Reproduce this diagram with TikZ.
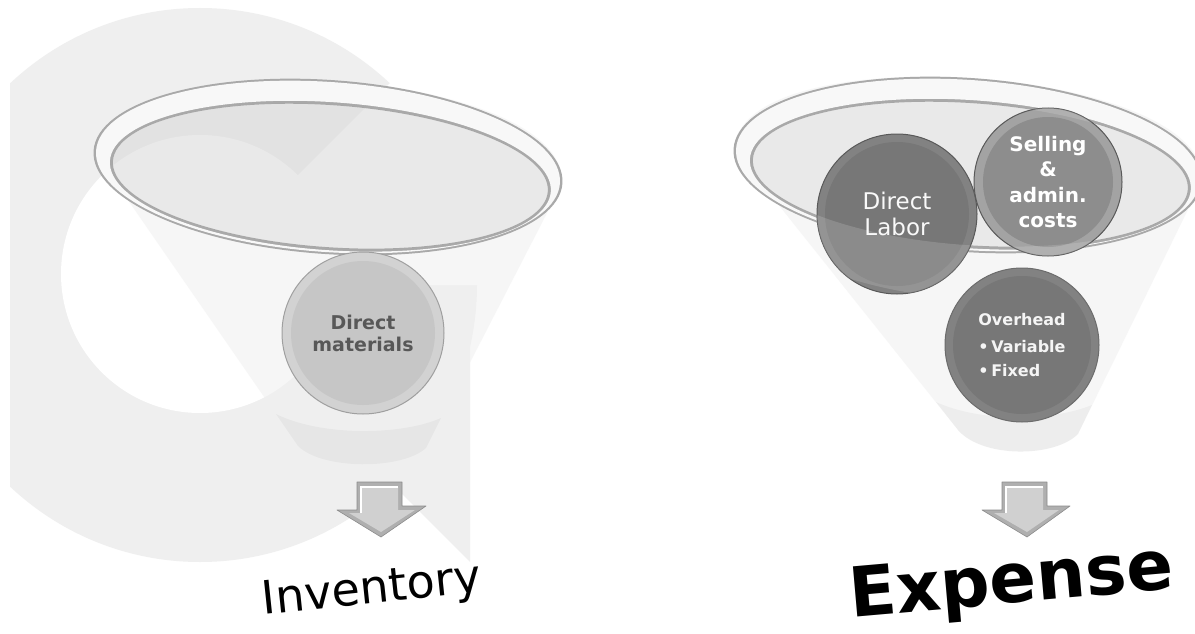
\documentclass[tikz,border=0pt]{standalone}
\usepackage{fontspec}
\setmainfont{DejaVu Sans}
\usetikzlibrary{positioning}

\definecolor{markgray}{HTML}{EFEFEF}
\definecolor{rimedge}{HTML}{A9A9A9}
\definecolor{rimbody}{HTML}{F8F8F8}
\definecolor{dmring}{HTML}{D2D2D2}
\definecolor{dmcore}{HTML}{C6C6C6}
\definecolor{dmtext}{HTML}{585858}
\definecolor{darkring}{HTML}{828282}
\definecolor{darkcore}{HTML}{777777}
\definecolor{midring}{HTML}{A3A3A3}
\definecolor{midcore}{HTML}{8D8D8D}
\definecolor{arrowface}{HTML}{D0D0D0}
\definecolor{arrowedge}{HTML}{8C8C8C}

\begin{document}
\begin{tikzpicture}[x=1pt, y=-1pt,
    ball/.style={circle, inner sep=0pt, align=center, line width=1pt},
    core/.style 2 args={path picture={\fill[#1] (path picture bounding box.center) circle (#2);}},
    cone/.style={fill=gray!12, fill opacity=0.55},
    spout/.style={fill=black, fill opacity=0.035},
    basin/.style={fill=black, fill opacity=0.05},
    downarrow/.style={fill=arrowedge!70, draw=arrowedge, line width=0.6pt, line join=round}]

\useasboundingbox (0,0) rectangle (1195,634);
\fill[white] (0,0) rectangle (1195,634);

% faint mark behind the left funnel
\begin{scope}
  \clip (10,0) rectangle (1195,634);
  \fill[markgray] (200,285) circle[radius=277];
  \fill[markgray] (193,285) -- (470,285) -- (470,562) -- cycle;
  \fill[white] (200,274) circle[radius=139];
  \fill[white] (188,285) -- (473,0) -- (700,0) -- (700,285) -- cycle;
\end{scope}

% funnel bodies
\fill[cone] (94,151) -- (298,446) .. controls (322,470) and (402,470) .. (426,448)
  -- (562,184) .. controls (570,68) and (102,35) .. (94,151);
\fill[spout] (276,414) -- (298,446) .. controls (322,470) and (402,470) .. (426,448)
  -- (441,418) .. controls (400,436) and (320,436) .. (276,414);
\fill[cone] (734,149) -- (958,430) .. controls (982,458) and (1054,458) .. (1078,434)
  -- (1202,181) .. controls (1210,66) and (742,33) .. (734,149);
\fill[spout] (936,402) -- (958,430) .. controls (982,458) and (1054,458) .. (1078,434)
  -- (1092,405) .. controls (1050,422) and (980,422) .. (936,402);

% rims
\begin{scope}[rotate around={-4:(328,167)}]
  \fill[rimedge, even odd rule] (328,167) ellipse[x radius=235, y radius=87] (331,176) ellipse[x radius=218, y radius=71];
  \fill[rimbody, even odd rule] (328,167) ellipse[x radius=232.5, y radius=85] (331,176) ellipse[x radius=221, y radius=74];
  \fill[basin] (331,176) ellipse[x radius=218, y radius=71];
\end{scope}
\begin{scope}[rotate around={-4:(968,165)}]
  \fill[rimedge, even odd rule] (968,165) ellipse[x radius=235, y radius=87] (971,174) ellipse[x radius=218, y radius=71];
  \fill[rimbody, even odd rule] (968,165) ellipse[x radius=232.5, y radius=85] (971,174) ellipse[x radius=221, y radius=74];
  \fill[basin] (971,174) ellipse[x radius=218, y radius=71];
\end{scope}

% cost circles
\node[ball, fill=dmring, draw=gray!75, minimum size=162pt, core={dmcore}{72pt},
  text=dmtext, font=\bfseries\fontsize{19}{22}\selectfont] (dm) at (363,333) {Direct\\materials};
\node[ball, fill=darkring, draw=gray!70!black, minimum size=160pt, core={darkcore}{72pt},
  text=white!95!gray, font=\fontsize{23}{26}\selectfont] (dl) at (897,214) {Direct\\Labor};
\node[ball, fill=midring, draw=gray!70!black, minimum size=148pt, core={midcore}{65pt},
  text=white, font=\bfseries\fontsize{20}{25.5}\selectfont] (sa) at (1048,182) {Selling\\\&\\admin.\\costs};
\node[ball, fill=darkring, draw=gray!85!black, minimum size=154pt, core={darkcore}{69pt},
  text=white!92!gray, font=\bfseries\fontsize{16}{24}\selectfont, align=left] (oh) at (1022,345)
  {Overhead\\[3pt]•\,Variable\\•\,Fixed};

% front of the right rim seen over the circles
\begin{scope}
  \clip (dl.center) circle[radius=80] (sa.center) circle[radius=74];
  \fill[white, fill opacity=0.15, even odd rule, rotate around={-4:(968,165)}]
    (971,174) ellipse[x radius=260, y radius=125] (971,174) ellipse[x radius=218, y radius=71];
\end{scope}

% arrows
\filldraw[downarrow] (357,482) -- (402,482) -- (402,506) -- (426,506) -- (381,537) -- (337,510) -- (357,510) -- cycle;
\fill[arrowface] (361,487) -- (398,487) -- (398,510) -- (415,510) -- (381,532) -- (349,513) -- (361,513) -- cycle;
\draw[white, line width=1.2pt] (361,513) -- (361,487) -- (398,487);
\filldraw[downarrow] (1002,482) -- (1047,482) -- (1047,506) -- (1070,506) -- (1027,537) -- (982,510) -- (1002,510) -- cycle;
\fill[arrowface] (1006,487) -- (1043,487) -- (1043,510) -- (1059,510) -- (1027,532) -- (994,513) -- (1006,513) -- cycle;
\draw[white, line width=1.2pt] (1006,513) -- (1006,487) -- (1043,487);

% outcomes
\node[rotate=6, anchor=base, font=\fontsize{46}{50}\selectfont] (inv) at (373,603) {Inventory};
\node[rotate=5, anchor=base, font=\bfseries\fontsize{69}{80}\selectfont] (exp) at (1013,603) {Expense};

\end{tikzpicture}
\end{document}
